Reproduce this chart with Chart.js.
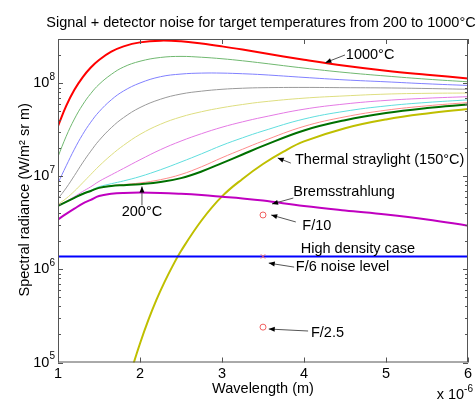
<!DOCTYPE html>
<html>
<head>
<meta charset="utf-8">
<script src="https://cdn.jsdelivr.net/npm/chart.js@4.4.0/dist/chart.umd.min.js"></script>
<style>
  html, body { margin: 0; padding: 0; background: #fff; }
  canvas { display: block; }
</style>
</head>
<body>
<canvas id="chart" width="476" height="401"></canvas>
<script>
// wavelength grid (x 10^-6 m) for the target temperature curves
const wavelengths = [1, 1.1, 1.2, 1.3, 1.4, 1.5, 1.65, 1.8, 2, 2.25, 2.5, 2.75, 3, 3.25, 3.5, 4, 4.5, 5, 5.5, 6];

// signal + detector noise, one array per target temperature
const t1000 = [3.48e7, 5.73e7, 8.53e7, 1.16e8, 1.48e8, 1.785e8, 2.19e8, 2.50e8, 2.76e8, 2.88e8, 2.83e8, 2.68e8, 2.50e8, 2.31e8, 2.12e8, 1.80e8, 1.55e8, 1.37e8, 1.24e8, 1.13e8];
const t900 = [1.63e7, 2.70e7, 4.14e7, 5.87e7, 7.78e7, 9.75e7, 1.25e8, 1.50e8, 1.73e8, 1.90e8, 1.95e8, 1.91e8, 1.84e8, 1.75e8, 1.65e8, 1.46e8, 1.31e8, 1.20e8, 1.11e8, 1.04e8];
const t800 = [8.48e6, 1.30e7, 1.96e7, 2.82e7, 3.83e7, 4.95e7, 6.66e7, 8.29e7, 1.01e8, 1.18e8, 1.26e8, 1.29e8, 1.29e8, 1.27e8, 1.24e8, 1.16e8, 1.09e8, 1.04e8, 9.9e7, 9.5e7];
const t700 = [5.75e6, 7.52e6, 1.02e7, 1.40e7, 1.87e7, 2.43e7, 3.34e7, 4.29e7, 5.50e7, 6.76e7, 7.69e7, 8.25e7, 8.64e7, 8.87e7, 8.99e7, 9.05e7, 8.99e7, 8.94e7, 8.81e7, 8.64e7];
const t600 = [5.0e6, 5.8e6, 6.94e6, 8.52e6, 1.05e7, 1.29e7, 1.70e7, 2.16e7, 2.83e7, 3.64e7, 4.36e7, 4.96e7, 5.48e7, 5.93e7, 6.33e7, 6.94e7, 7.34e7, 7.67e7, 7.82e7, 7.88e7];
const t500 = [4.85e6, 5.40e6, 6.06e6, 6.88e6, 7.74e6, 8.84e6, 1.04e7, 1.22e7, 1.51e7, 1.94e7, 2.40e7, 2.88e7, 3.38e7, 3.86e7, 4.33e7, 5.28e7, 6.01e7, 6.56e7, 6.93e7, 7.20e7];
const t400 = [4.83e6, 5.33e6, 5.90e6, 6.53e6, 7.09e6, 7.74e6, 8.35e6, 8.95e6, 9.97e6, 1.18e7, 1.43e7, 1.75e7, 2.16e7, 2.60e7, 3.08e7, 4.14e7, 5.02e7, 5.72e7, 6.24e7, 6.65e7];
const t300 = [4.83e6, 5.33e6, 5.88e6, 6.48e6, 6.98e6, 7.53e6, 7.93e6, 8.17e6, 8.51e6, 9.23e6, 1.05e7, 1.27e7, 1.59e7, 1.96e7, 2.40e7, 3.45e7, 4.37e7, 5.15e7, 5.74e7, 6.22e7];
const t200 = [4.83e6, 5.33e6, 5.88e6, 6.48e6, 6.98e6, 7.53e6, 7.88e6, 8.06e6, 8.26e6, 8.69e6, 9.59e6, 1.13e7, 1.39e7, 1.72e7, 2.13e7, 3.12e7, 4.02e7, 4.81e7, 5.43e7, 5.93e7];

// bremsstrahlung on the same grid
const brems = [3.45e6, 3.95e6, 4.5e6, 5.1e6, 5.6e6, 6.15e6, 6.5e6, 6.65e6, 6.7e6, 6.65e6, 6.5e6, 6.3e6, 6.05e6, 5.8e6, 5.5e6, 4.8e6, 4.3e6, 3.9e6, 3.45e6, 2.95e6];

// thermal straylight (150 C) has its own grid
const strayWl = [1.85, 1.9, 2, 2.1, 2.2, 2.3, 2.4, 2.5, 2.75, 3, 3.25, 3.5, 3.75, 4, 4.5, 5, 5.5, 6];
const straylight = [6.0e4, 8.5e4, 1.6e5, 2.83e5, 4.7e5, 7.35e5, 1.1e6, 1.58e6, 3.36e6, 6.1e6, 9.4e6, 1.36e7, 1.85e7, 2.38e7, 3.3e7, 4.1e7, 4.75e7, 5.3e7];

// F/6 noise level (high density case)
const noiseWl = [1, 6];
const noiseLevel = [1.38e6, 1.38e6];

// single points at 3.5 um
const fWl = [3.5, 3.5];
const fCircles = [3.85e6, 2.4e5];
const f6Point = [1.38e6];

// axis ticks
const xTicks = [1, 2, 3, 4, 5, 6];
const yDecades = [5, 6, 7, 8];

const pts = (xs, ys) => ys.map((v, i) => ({ x: xs[i], y: v }));

function curve(data, color, width) {
  return {
    data: data,
    borderColor: color,
    borderWidth: width,
    pointRadius: 0,
    fill: false,
    tension: 0.4,
  };
}

// annotations: text position in data units, arrow from -> to
const notes = [
  { text: "1000°C", x: 4.51, y: 2.02e8, from: [4.50, 2.02e8], to: [4.26, 1.67e8] },
  { text: "Thermal straylight (150°C)", x: 3.89, y: 1.50e7, from: [3.84, 1.39e7], to: [3.68, 1.58e7] },
  { text: "Bremsstrahlung", x: 3.87, y: 6.8e6, from: [3.87, 5.86e6], to: [3.61, 5.06e6] },
  { text: "200°C", x: 2.024, y: 4.15e6, align: "center", from: [2.024, 4.9e6], to: [2.024, 7.8e6] },
  { text: "F/10", x: 3.98, y: 2.93e6, from: [3.90, 3.24e6], to: [3.60, 3.85e6] },
  { text: "High density case", x: 3.96, y: 1.66e6 },
  { text: "F/6 noise level", x: 3.90, y: 1.06e6, from: [3.88, 1.06e6], to: [3.57, 1.17e6] },
  { text: "F/2.5", x: 4.085, y: 2.07e5, from: [4.05, 2.18e5], to: [3.57, 2.29e5] },
];

const FONT = '"Liberation Sans", Arial, sans-serif';
const BIG = "14.5px " + FONT;
const SMALL = "10px " + FONT;

function arrow(ctx, x1, y1, x2, y2) {
  ctx.strokeStyle = "#555";
  ctx.lineWidth = 1;
  ctx.beginPath();
  ctx.moveTo(x1, y1);
  ctx.lineTo(x2, y2);
  ctx.stroke();
  const ang = Math.atan2(y2 - y1, x2 - x1);
  const len = 6, half = 2.5;
  ctx.fillStyle = "#000";
  ctx.beginPath();
  ctx.moveTo(x2, y2);
  ctx.lineTo(x2 - len * Math.cos(ang) + half * Math.sin(ang), y2 - len * Math.sin(ang) - half * Math.cos(ang));
  ctx.lineTo(x2 - len * Math.cos(ang) - half * Math.sin(ang), y2 - len * Math.sin(ang) + half * Math.cos(ang));
  ctx.closePath();
  ctx.fill();
}

const decor = {
  id: "decor",
  afterDraw(chart) {
    const { ctx, chartArea: a } = chart;
    const xs = chart.scales.x, ys = chart.scales.y;
    ctx.save();

    // box
    ctx.strokeStyle = "#555";
    ctx.lineWidth = 1;
    ctx.strokeRect(a.left + 0.5, a.top + 0.5, a.width - 1, a.height - 1);

    // x ticks (top and bottom, inward)
    ctx.beginPath();
    xTicks.forEach((t) => {
      const px = Math.round(xs.getPixelForValue(t)) + 0.5;
      ctx.moveTo(px, a.bottom);
      ctx.lineTo(px, a.bottom - 5);
      ctx.moveTo(px, a.top);
      ctx.lineTo(px, a.top + 5);
    });
    // y ticks, major and minor
    yDecades.forEach((d) => {
      for (let m = 1; m <= 9; m++) {
        const v = m * Math.pow(10, d);
        if (v > ys.max) break;
        const py = Math.round(ys.getPixelForValue(v)) + 0.5;
        const len = m === 1 ? 5 : 3;
        ctx.moveTo(a.left, py);
        ctx.lineTo(a.left + len, py);
        ctx.moveTo(a.right, py);
        ctx.lineTo(a.right - len, py);
      }
    });
    ctx.stroke();

    // tick labels
    ctx.fillStyle = "#000";
    ctx.font = BIG;
    ctx.textAlign = "center";
    ctx.textBaseline = "middle";
    xTicks.forEach((t) => {
      ctx.fillText(String(t), xs.getPixelForValue(t), a.bottom + 11);
    });
    yDecades.forEach((d) => {
      const py = ys.getPixelForValue(Math.pow(10, d));
      ctx.font = SMALL;
      ctx.textAlign = "right";
      ctx.fillText(String(d), a.left - 3, py - 6);
      const ew = ctx.measureText(String(d)).width;
      ctx.font = BIG;
      ctx.fillText("10", a.left - 3 - ew, py);
    });

    // x 10^-6 multiplier
    ctx.textAlign = "right";
    ctx.font = SMALL;
    ctx.fillText("-6", 473, 389);
    const mw = ctx.measureText("-6").width;
    ctx.font = BIG;
    ctx.fillText("x 10", 473 - mw, 395);

    // axis titles
    ctx.textAlign = "center";
    ctx.fillText("Wavelength (m)", (a.left + a.right) / 2, 389);
    ctx.save();
    ctx.translate(25, (a.top + a.bottom) / 2 - 1);
    ctx.rotate(-Math.PI / 2);
    ctx.fillText("Spectral radiance (W/m² sr m)", 0, 0);
    ctx.restore();

    // title
    ctx.fillText("Signal + detector noise for target temperatures from 200 to 1000°C", (a.left + a.right) / 2 - 2, 23);

    // annotations
    notes.forEach((n) => {
      if (n.from) {
        arrow(ctx, xs.getPixelForValue(n.from[0]), ys.getPixelForValue(n.from[1]),
          xs.getPixelForValue(n.to[0]), ys.getPixelForValue(n.to[1]));
      }
      ctx.fillStyle = "#000";
      ctx.font = BIG;
      ctx.textAlign = n.align || "left";
      ctx.fillText(n.text, xs.getPixelForValue(n.x), ys.getPixelForValue(n.y));
    });

    ctx.restore();
  },
};

new Chart(document.getElementById("chart").getContext("2d"), {
  type: "line",
  data: {
    datasets: [
      {
        data: pts(fWl, fCircles),
        showLine: false,
        pointStyle: "circle",
        pointRadius: 3,
        borderColor: "#f06060",
        backgroundColor: "rgba(0,0,0,0)",
        borderWidth: 1,
      },
      {
        data: pts([3.5], f6Point),
        showLine: false,
        pointStyle: "crossRot",
        pointRadius: 3,
        borderColor: "#f06060",
        borderWidth: 1,
      },
      curve(pts(wavelengths, t1000), "#ff0000", 2),
      curve(pts(noiseWl, noiseLevel), "#0000ff", 2),
      curve(pts(wavelengths, brems), "#c000c0", 2),
      curve(pts(strayWl, straylight), "#bfbf00", 2),
      curve(pts(wavelengths, t200), "#007000", 2),
      curve(pts(wavelengths, t300), "#ff8c8c", 1),
      curve(pts(wavelengths, t400), "#60dede", 1),
      curve(pts(wavelengths, t500), "#e47ae4", 1),
      curve(pts(wavelengths, t600), "#dede80", 1),
      curve(pts(wavelengths, t700), "#9a9a9a", 1),
      curve(pts(wavelengths, t800), "#8080ff", 1),
      curve(pts(wavelengths, t900), "#70b870", 1),
    ],
  },
  options: {
    responsive: false,
    animation: false,
    layout: { padding: { left: 58, right: 8, top: 39, bottom: 38.5 } },
    scales: {
      x: { type: "linear", min: 1, max: 6, display: false },
      y: { type: "logarithmic", min: 1e5, max: 3e8, display: false },
    },
    plugins: {
      legend: { display: false },
      tooltip: { enabled: false },
    },
  },
  plugins: [decor],
});
</script>
</body>
</html>
